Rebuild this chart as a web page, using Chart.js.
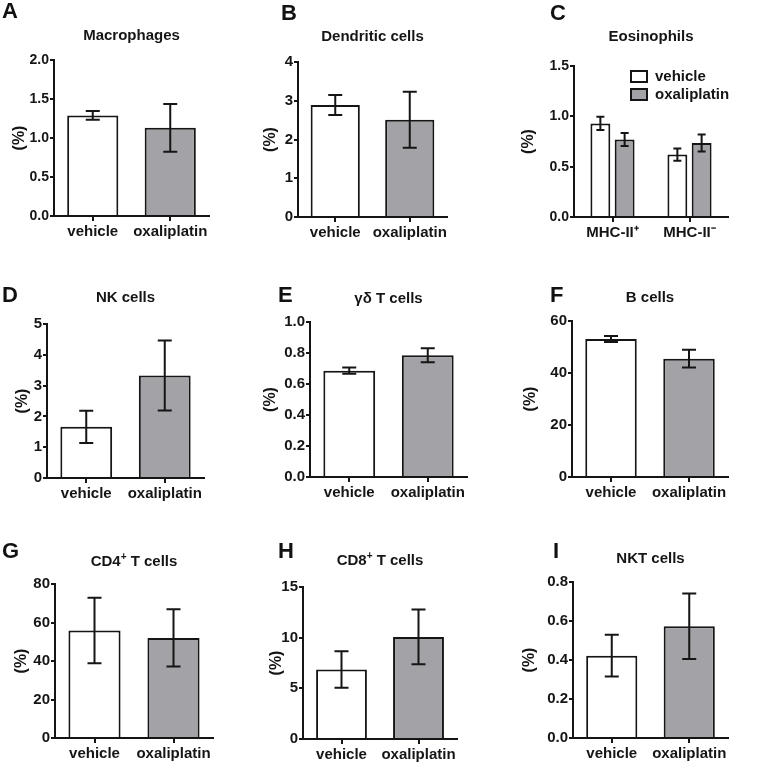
<!DOCTYPE html>
<html>
<head>
<title>Immune cell populations: vehicle vs oxaliplatin</title>
<script src="https://cdn.jsdelivr.net/npm/chart.js"></script>
<style>
    body { margin: 0; background: #fff; }
    #page { position: relative; width: 775px; height: 775px; overflow: hidden; background: #fff; }
    .panel { position: absolute; }
    .letter {
        position: absolute;
        font: bold 22px 'Liberation Sans', Arial, sans-serif;
        line-height: 22px;
        color: #111;
    }
</style>
</head>
<body>
<div id="page"></div>
<script>
    // ---- data (mean and SEM) ----
    const groups = ['vehicle', 'oxaliplatin'];
    const eosGroups = ['MHC-II\u207A', 'MHC-II\u207B'];

    const macroMean = [1.29, 1.13];
    const macroErr = [0.055, 0.305];
    const macroTicks = [0, 0.5, 1.0, 1.5, 2.0];

    const dcMean = [2.89, 2.51];
    const dcErr = [0.26, 0.72];
    const dcTicks = [0, 1, 2, 3, 4];

    const eosVehicleMean = [0.93, 0.62];
    const eosVehicleErr = [0.065, 0.06];
    const eosOxaliMean = [0.77, 0.735];
    const eosOxaliErr = [0.065, 0.085];
    const eosTicks = [0, 0.5, 1.0, 1.5];

    const nkMean = [1.66, 3.33];
    const nkErr = [0.525, 1.135];
    const nkTicks = [0, 1, 2, 3, 4, 5];

    const gdMean = [0.686, 0.785];
    const gdErr = [0.02, 0.045];
    const gdTicks = [0, 0.2, 0.4, 0.6, 0.8, 1.0];

    const bMean = [53.1, 45.5];
    const bErr = [1.15, 3.4];
    const bTicks = [0, 20, 40, 60];

    const cd4Mean = [55.8, 52.0];
    const cd4Err = [17.0, 14.9];
    const cd4Ticks = [0, 20, 40, 60, 80];

    const cd8Mean = [6.85, 10.07];
    const cd8Err = [1.8, 2.7];
    const cd8Ticks = [0, 5, 10, 15];

    const nktMean = [0.422, 0.573];
    const nktErr = [0.107, 0.168];
    const nktTicks = [0, 0.2, 0.4, 0.6, 0.8];

    // ---- look ----
    const FONT = "'Liberation Sans', Arial, sans-serif";
    const INK = '#151515';
    const WHITE = '#ffffff';
    const GREY = '#a3a3a7';
    Chart.defaults.font.family = FONT;
    Chart.defaults.color = INK;

    // canvas margin around each plot area
    const ML = 75, MT = 50, MR = 25, MB = 45, YW = 40, XH = 30;

    function pair(mean, err) {
        return [{ data: mean, errors: err, backgroundColor: [WHITE, GREY] }];
    }

    const panels = [
        { letter: 'A', lx: 2, ly: 3, title: 'Macrophages', labels: groups, sets: pair(macroMean, macroErr), ticks: macroTicks, dec: 1,
          box: [54, 60, 209, 216], tGap: 24, yOff: 34, tickSize: 14 },
        { letter: 'B', lx: 281, ly: 5, title: 'Dendritic cells', labels: groups, sets: pair(dcMean, dcErr), ticks: dcTicks, dec: 0,
          box: [298, 62, 447, 217], tGap: 25, yOff: 27, tickSize: 15 },
        { letter: 'C', lx: 550, ly: 5, title: 'Eosinophils', labels: eosGroups,
          sets: [
              { label: 'vehicle', data: eosVehicleMean, errors: eosVehicleErr, backgroundColor: WHITE },
              { label: 'oxaliplatin', data: eosOxaliMean, errors: eosOxaliErr, backgroundColor: GREY }
          ],
          ticks: eosTicks, dec: 1, box: [574, 66, 728, 217], tGap: 29, yOff: 45, tickSize: 14, grouped: true },
        { letter: 'D', lx: 2, ly: 287, title: 'NK cells', labels: groups, sets: pair(nkMean, nkErr), ticks: nkTicks, dec: 0,
          box: [47, 324, 204, 478], tGap: 26, yOff: 24, tickSize: 15 },
        { letter: 'E', lx: 278, ly: 287, title: '\u03B3\u03B4 T cells', labels: groups, sets: pair(gdMean, gdErr), ticks: gdTicks, dec: 1,
          box: [310, 322, 467, 477], tGap: 23, yOff: 39, tickSize: 15 },
        { letter: 'F', lx: 550, ly: 287, title: 'B cells', labels: groups, sets: pair(bMean, bErr), ticks: bTicks, dec: 0,
          box: [572, 321, 728, 477], tGap: 23, yOff: 41, tickSize: 15 },
        { letter: 'G', lx: 2, ly: 543, title: 'CD4^+ T cells', labels: groups, sets: pair(cd4Mean, cd4Err), ticks: cd4Ticks, dec: 0,
          box: [55, 584, 213, 738], tGap: 22, yOff: 33, tickSize: 15 },
        { letter: 'H', lx: 278, ly: 543, title: 'CD8^+ T cells', labels: groups, sets: pair(cd8Mean, cd8Err), ticks: cd8Ticks, dec: 0,
          box: [303, 587, 457, 739], tGap: 26, yOff: 26, tickSize: 15 },
        { letter: 'I', lx: 553, ly: 543, title: 'NKT cells', labels: groups, sets: pair(nktMean, nktErr), ticks: nktTicks, dec: 1,
          box: [573, 582, 728, 738], tGap: 23, yOff: 43, tickSize: 15 }
    ];

    // draws text where "^x" means superscript x
    function drawRich(ctx, text, cx, cy, size) {
        const parts = [];
        text.split(/(\^.)/).forEach(p => {
            if (!p) return;
            if (p[0] === '^') parts.push({ t: p.slice(1), sup: true });
            else parts.push({ t: p, sup: false });
        });
        const supSize = Math.round(size * 0.65);
        let total = 0;
        parts.forEach(p => {
            ctx.font = 'bold ' + (p.sup ? supSize : size) + 'px ' + FONT;
            p.w = ctx.measureText(p.t).width;
            total += p.w;
        });
        let x = cx - total / 2;
        ctx.textAlign = 'left';
        ctx.textBaseline = 'middle';
        parts.forEach(p => {
            ctx.font = 'bold ' + (p.sup ? supSize : size) + 'px ' + FONT;
            ctx.fillText(p.t, x, p.sup ? cy - size * 0.35 : cy);
            x += p.w;
        });
    }

    const decorations = {
        id: 'decorations',
        afterDatasetsDraw(chart, args, opts) {
            const ctx = chart.ctx;
            const area = chart.chartArea;
            const y = chart.scales.y;
            ctx.save();
            ctx.strokeStyle = INK;
            ctx.lineWidth = 2;

            // error bars
            chart.data.datasets.forEach((ds, i) => {
                chart.getDatasetMeta(i).data.forEach((bar, j) => {
                    const hi = y.getPixelForValue(ds.data[j] + ds.errors[j]);
                    const lo = y.getPixelForValue(ds.data[j] - ds.errors[j]);
                    const cap = opts.cap;
                    ctx.beginPath();
                    ctx.moveTo(bar.x, hi); ctx.lineTo(bar.x, lo);
                    ctx.moveTo(bar.x - cap, hi); ctx.lineTo(bar.x + cap, hi);
                    ctx.moveTo(bar.x - cap, lo); ctx.lineTo(bar.x + cap, lo);
                    ctx.stroke();
                });
            });

            ctx.fillStyle = INK;
            // panel title
            drawRich(ctx, opts.title, (area.left + area.right) / 2, area.top - opts.tGap, 15);

            // y axis title
            ctx.save();
            ctx.translate(area.left - opts.yOff, (area.top + area.bottom) / 2);
            ctx.rotate(-Math.PI / 2);
            ctx.font = 'bold 16px ' + FONT;
            ctx.textAlign = 'center';
            ctx.textBaseline = 'middle';
            ctx.fillText('(%)', 0, 0);
            ctx.restore();

            // legend inside the plot (grouped panel only)
            if (opts.legend) {
                chart.data.datasets.forEach((ds, i) => {
                    const bx = area.left + 57, by = area.top + 5 + i * 18;
                    ctx.fillStyle = ds.backgroundColor;
                    ctx.fillRect(bx, by, 16, 11);
                    ctx.strokeRect(bx, by, 16, 11);
                    ctx.fillStyle = INK;
                    ctx.font = 'bold 15px ' + FONT;
                    ctx.textAlign = 'left';
                    ctx.textBaseline = 'middle';
                    ctx.fillText(ds.label, bx + 24, by + 6);
                });
            }
            ctx.restore();
        }
    };

    const page = document.getElementById('page');

    panels.forEach(p => {
        const [x0, y0, x1, y1] = p.box;
        const w = (x1 - x0) + ML + MR;
        const h = (y1 - y0) + MT + MB;

        const canvas = document.createElement('canvas');
        canvas.className = 'panel';
        canvas.width = w;
        canvas.height = h;
        canvas.style.left = (x0 - ML) + 'px';
        canvas.style.top = (y0 - MT) + 'px';
        canvas.style.width = w + 'px';
        canvas.style.height = h + 'px';
        page.appendChild(canvas);

        const letter = document.createElement('div');
        letter.className = 'letter';
        letter.textContent = p.letter;
        letter.style.left = p.lx + 'px';
        letter.style.top = (p.ly - 3) + 'px';
        page.appendChild(letter);

        const datasets = p.sets.map(s => Object.assign({
            borderColor: INK,
            borderWidth: 2,
            borderSkipped: 'start',
            barPercentage: p.grouped ? 0.82 : 0.66,
            categoryPercentage: p.grouped ? 0.63 : 1.0
        }, s));

        new Chart(canvas, {
            type: 'bar',
            data: { labels: p.labels, datasets: datasets },
            options: {
                responsive: false,
                animation: false,
                events: [],
                layout: { padding: { left: ML - YW, top: MT, right: MR, bottom: MB - XH } },
                scales: {
                    x: {
                        afterFit: s => { s.height = XH; },
                        grid: { offset: false, drawOnChartArea: false, drawTicks: true, tickLength: 5, color: INK, lineWidth: 2 },
                        border: { color: INK, width: 2 },
                        ticks: { font: { size: 15, weight: 'bold' }, color: INK, padding: 2, autoSkip: false, maxRotation: 0 }
                    },
                    y: {
                        min: p.ticks[0],
                        max: p.ticks[p.ticks.length - 1],
                        afterFit: s => { s.width = YW; },
                        afterBuildTicks: s => { s.ticks = p.ticks.map(v => ({ value: v })); },
                        grid: { drawOnChartArea: false, drawTicks: true, tickLength: 4, color: INK, lineWidth: 2 },
                        border: { color: INK, width: 2 },
                        ticks: {
                            font: { size: p.tickSize, weight: 'bold' }, color: INK, padding: 1,
                            callback: v => Number(v).toFixed(p.dec)
                        }
                    }
                },
                plugins: {
                    legend: { display: false },
                    tooltip: { enabled: false },
                    decorations: {
                        title: p.title, tGap: p.tGap, yOff: p.yOff,
                        cap: p.grouped ? 4 : 7, legend: !!p.grouped
                    }
                }
            },
            plugins: [decorations]
        });
    });
</script>
</body>
</html>
